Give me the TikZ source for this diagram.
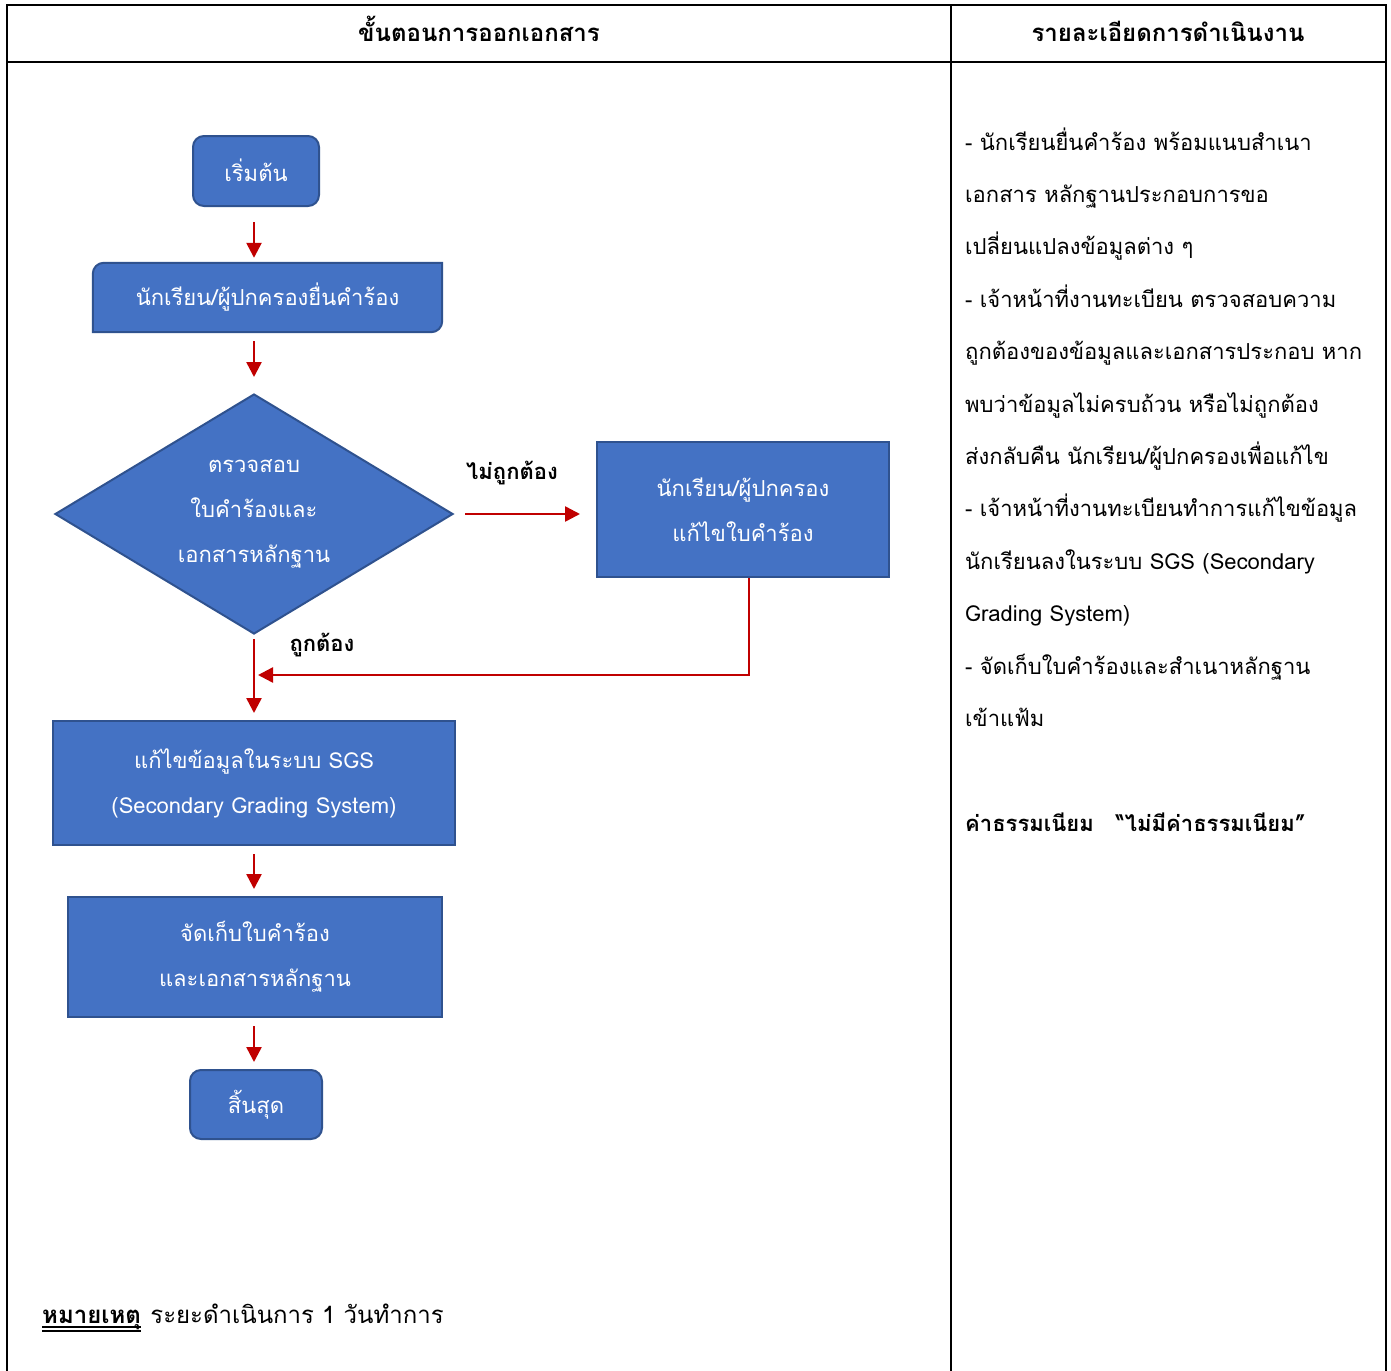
\documentclass[tikz,border=0pt]{standalone}
\usepackage{fontspec}
\setmainfont{Loma}[Script=Thai]
\usetikzlibrary{arrows.meta,shapes.geometric}
\definecolor{boxfill}{HTML}{4472C4}
\definecolor{boxline}{HTML}{2F528F}
\definecolor{flow}{HTML}{C00000}
\pgfdeclarelayer{background}
\pgfsetlayers{background,main}
\newcommand{\txtsize}{\fontsize{22}{45}\selectfont}
\newcommand{\bigsize}{\fontsize{24}{45}\selectfont}
\tikzset{
  stepbox/.style={draw=boxline, fill=boxfill, line width=2pt, text=white,
    align=center, inner sep=0pt, font=\txtsize},
  termbox/.style={stepbox, rounded corners=11pt},
  plainbox/.style={text=white, align=center, inner sep=0pt, font=\txtsize},
  decision/.style={diamond, draw=boxline, fill=boxfill, line width=2pt,
    text=white, align=center, inner sep=0pt, aspect=1.66, font=\txtsize},
  flowline/.style={draw=flow, line width=2.5pt},
  flowarrow/.style={flowline, -{Triangle[length=15pt,width=15pt]}},
  edgelabel/.style={font=\txtsize\bfseries, text=black, inner sep=0pt},
  head/.style={font=\bigsize\bfseries, anchor=base, inner sep=0pt},
  detail/.style={font=\txtsize, anchor=base west, inner sep=0pt},
  grid/.style={line width=2.5pt, black}
}
\begin{document}
\begin{tikzpicture}[x=1pt,y=-1pt]
\useasboundingbox (0,0) rectangle (1391,1370);
\begin{pgfonlayer}{background}
  \fill[white] (0,0) rectangle (1391,1370);
\end{pgfonlayer}

% table frame
\draw[grid] (7,1372) -- (7,5) -- (1386,5) -- (1386,1372);
\draw[grid] (7,62) -- (1386,62);
\draw[grid] (951,5) -- (951,1372);

% column headings
\node[head] (hleft) at (479,42) {ขั้นตอนการออกเอกสาร};
\node[head] (hright) at (1168,42) {รายละเอียดการดำเนินงาน};

% flowchart nodes
\node[termbox, minimum width=126pt, minimum height=70pt] (start) at (256,171) {\raisebox{2pt}{เริ่มต้น}};
\node[plainbox, minimum width=349pt, minimum height=69pt] (apply) at (267.5,297.5) {นักเรียน/ผู้ปกครองยื่นคำร้อง};
\begin{pgfonlayer}{background}
  % box with rounded top-left and bottom-right corners
  \draw[draw=boxline, fill=boxfill, line width=2pt]
    (apply.south west) -- ([yshift=-11pt]apply.north west)
    arc[start angle=180, end angle=90, radius=11pt]
    -- (apply.north east) -- ([yshift=11pt]apply.south east)
    arc[start angle=0, end angle=-90, radius=11pt] -- cycle;
\end{pgfonlayer}
\node[decision, minimum width=398pt, minimum height=240pt] (check) at (254,514)
  {ตรวจสอบ\\ใบคำร้องและ\\เอกสารหลักฐาน};
\node[stepbox, minimum width=292pt, minimum height=135pt] (fix) at (743,509.5)
  {นักเรียน/ผู้ปกครอง\\แก้ไขใบคำร้อง};
\node[stepbox, minimum width=402pt, minimum height=124pt] (sgs) at (254,783)
  {แก้ไขข้อมูลในระบบ SGS\\(Secondary Grading System)};
\node[stepbox, minimum width=374pt, minimum height=120pt] (store) at (255,957)
  {จัดเก็บใบคำร้อง\\และเอกสารหลักฐาน};
\node[termbox, minimum width=132pt, minimum height=69pt] (finish) at (256,1104.5) {สิ้นสุด};

% connectors, all on the vertical through the decision's tips
\coordinate (merge) at (254,675);
\draw[flowarrow, shorten <=15pt, shorten >=5pt] (check.north |- start.south) -- (check.north |- apply.north);
\draw[flowarrow, shorten <=9pt, shorten >=16pt] (check.north |- apply.south) -- (check.north);
\draw[flowarrow, shorten <=11pt, shorten >=16pt] (check.east) -- (fix.west |- check.east);
\draw[flowarrow, shorten >=4pt] ([xshift=6pt]fix.south) |- (merge);
\draw[flowarrow, shorten <=4pt, shorten >=7pt] (check.south) -- (sgs.north);
\draw[flowarrow, shorten <=8pt, shorten >=7pt] (sgs.south) -- (sgs.south |- store.north);
\draw[flowarrow, shorten <=8pt, shorten >=7pt] (sgs.south |- store.south) -- (sgs.south |- finish.north);

\node[edgelabel] (nolabel) at (512,473) {ไม่ถูกต้อง};
\node[edgelabel] (yeslabel) at (322,645) {ถูกต้อง};

% description column
\node[detail] (d1) at (965,150) {- นักเรียนยื่นคำร้อง พร้อมแนบสำเนา};
\node[detail] (d2) at (965,202.4) {เอกสาร หลักฐานประกอบการขอ};
\node[detail] (d3) at (965,254.8) {เปลี่ยนแปลงข้อมูลต่าง ๆ};
\node[detail] (d4) at (965,307.2) {- เจ้าหน้าที่งานทะเบียน ตรวจสอบความ};
\node[detail] (d5) at (965,359.6) {ถูกต้องของข้อมูลและเอกสารประกอบ หาก};
\node[detail] (d6) at (965,412) {พบว่าข้อมูลไม่ครบถ้วน หรือไม่ถูกต้อง};
\node[detail] (d7) at (965,464.4) {ส่งกลับคืน นักเรียน/ผู้ปกครองเพื่อแก้ไข};
\node[detail] (d8) at (965,516.8) {- เจ้าหน้าที่งานทะเบียนทำการแก้ไขข้อมูล};
\node[detail] (d9) at (965,569.2) {นักเรียนลงในระบบ SGS (Secondary};
\node[detail] (d10) at (965,621.6) {Grading System)};
\node[detail] (d11) at (965,674) {- จัดเก็บใบคำร้องและสำเนาหลักฐาน};
\node[detail] (d12) at (965,726.4) {เข้าแฟ้ม};
\node[detail, font=\txtsize\bfseries] (fee) at (965,831) {ค่าธรรมเนียม\quad “ไม่มีค่าธรรมเนียม”};

% remark
\node[detail, font=\bigsize\bfseries] (notehead) at (42,1323) {หมายเหตุ};
\draw[line width=1.5pt] ([yshift=-4pt]notehead.base west) -- ([yshift=-4pt]notehead.base east);
\draw[line width=1.5pt] ([yshift=-8pt]notehead.base west) -- ([yshift=-8pt]notehead.base east);
\node[detail, font=\bigsize] (notebody) at ([xshift=9pt]notehead.base east) {ระยะดำเนินการ 1 วันทำการ};
\end{tikzpicture}
\end{document}
